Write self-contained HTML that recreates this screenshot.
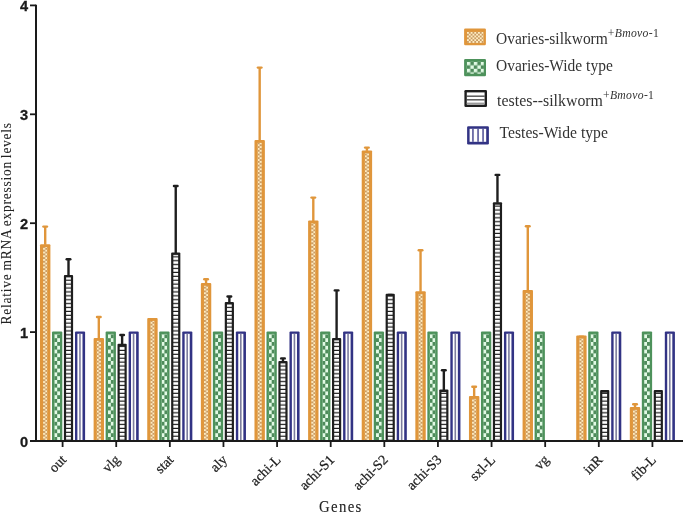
<!DOCTYPE html>
<html><head><meta charset="utf-8"><style>
html,body{margin:0;padding:0;background:#fff;width:685px;height:514px;overflow:hidden;}
svg{display:block;will-change:transform;}
</style></head><body>
<svg width="685" height="514" viewBox="0 0 685 514">

<defs>
<pattern id="pOr" patternUnits="userSpaceOnUse" width="3.66" height="3.66" x="0" y="0">
<rect width="3.66" height="3.66" fill="#C99A62"/>
<rect width="1.83" height="1.83" fill="#FFEDC2"/>
<rect x="1.83" y="1.83" width="1.83" height="1.83" fill="#FFEDC2"/>
</pattern>
<pattern id="pOrB" patternUnits="userSpaceOnUse" width="4.2" height="3.7" x="0" y="0">
<rect width="4.2" height="3.7" fill="#C99A62"/>
<rect width="2.1" height="1.85" fill="#FFEDC2"/>
<rect x="2.1" y="1.85" width="2.1" height="1.85" fill="#FFEDC2"/>
</pattern>
<pattern id="pGr" patternUnits="userSpaceOnUse" width="5.8" height="7.6" x="0" y="0">
<rect width="5.8" height="7.6" fill="#4E8B5B"/>
<rect width="2.9" height="3.8" fill="#E2FAE5"/>
<rect x="2.9" y="3.8" width="2.9" height="3.8" fill="#E2FAE5"/>
</pattern>
<pattern id="pGrL" patternUnits="userSpaceOnUse" width="7" height="7" x="0" y="0">
<rect width="7" height="7" fill="#4E8B5B"/>
<rect width="3.5" height="3.5" fill="#E2FAE5"/>
<rect x="3.5" y="3.5" width="3.5" height="3.5" fill="#E2FAE5"/>
</pattern>
<pattern id="pBk" patternUnits="userSpaceOnUse" width="10" height="3.9" x="0" y="0">
<rect width="10" height="3.9" fill="#ffffff"/>
<rect y="2.7" width="10" height="1.2" fill="#1E1E1E"/>
</pattern>
</defs>

<rect width="685" height="514" fill="#ffffff"/>
<rect x="40" y="244.3" width="10.4" height="196.7" fill="#E0963B" rx="1"/><g transform="translate(43.1,0)"><rect x="0" y="247.1" width="4.2" height="192.9" fill="url(#pOrB)"/></g>
<line x1="45.2" y1="244.8" x2="45.2" y2="226.6" stroke="#E0963B" stroke-width="2.4"/><line x1="43.4" y1="226.6" x2="47" y2="226.6" stroke="#E0963B" stroke-width="2.4" stroke-linecap="round"/>
<rect x="52" y="331.4" width="10.3" height="109.6" fill="#4D925B" rx="1"/><g transform="translate(54.3,0)"><rect x="0" y="333.9" width="5.7" height="106.1" fill="url(#pGr)"/></g>
<rect x="63.9" y="275" width="9.2" height="166" fill="#1E1E1E" rx="1"/><rect x="66.1" y="277.4" width="4.8" height="162.6" fill="url(#pBk)"/>
<line x1="68.5" y1="275.5" x2="68.5" y2="259.3" stroke="#1E1E1E" stroke-width="2.4"/><line x1="66.7" y1="259.3" x2="70.3" y2="259.3" stroke="#1E1E1E" stroke-width="2.4" stroke-linecap="round"/>
<rect x="75" y="331.4" width="10.1" height="109.6" fill="#323384" rx="1"/><rect x="77.4" y="333.8" width="5.1" height="106.2" fill="#ffffff"/><rect x="79.15" y="333.8" width="1.6" height="106.2" fill="#7C7D9E"/>
<rect x="93.62" y="338" width="10.4" height="103" fill="#E0963B" rx="1"/><g transform="translate(96.72,0)"><rect x="0" y="340.8" width="4.2" height="99.2" fill="url(#pOrB)"/></g>
<line x1="98.82" y1="338.5" x2="98.82" y2="317" stroke="#E0963B" stroke-width="2.4"/><line x1="97.02" y1="317" x2="100.62" y2="317" stroke="#E0963B" stroke-width="2.4" stroke-linecap="round"/>
<rect x="105.62" y="331.4" width="10.3" height="109.6" fill="#4D925B" rx="1"/><g transform="translate(107.92,0)"><rect x="0" y="333.9" width="5.7" height="106.1" fill="url(#pGr)"/></g>
<rect x="117.52" y="343.8" width="9.2" height="97.2" fill="#1E1E1E" rx="1"/><rect x="119.72" y="346.2" width="4.8" height="93.8" fill="url(#pBk)"/>
<line x1="122.12" y1="344.3" x2="122.12" y2="335" stroke="#1E1E1E" stroke-width="2.4"/><line x1="120.32" y1="335" x2="123.92" y2="335" stroke="#1E1E1E" stroke-width="2.4" stroke-linecap="round"/>
<rect x="128.62" y="331.4" width="10.1" height="109.6" fill="#323384" rx="1"/><rect x="131.02" y="333.8" width="5.1" height="106.2" fill="#ffffff"/><rect x="132.77" y="333.8" width="1.6" height="106.2" fill="#7C7D9E"/>
<rect x="147.24" y="318" width="10.4" height="123" fill="#E0963B" rx="1"/><g transform="translate(150.34,0)"><rect x="0" y="320.8" width="4.2" height="119.2" fill="url(#pOrB)"/></g>
<line x1="150.64" y1="319.2" x2="154.24" y2="319.2" stroke="#E0963B" stroke-width="2.4" stroke-linecap="round"/>
<rect x="159.24" y="331.4" width="10.3" height="109.6" fill="#4D925B" rx="1"/><g transform="translate(161.54,0)"><rect x="0" y="333.9" width="5.7" height="106.1" fill="url(#pGr)"/></g>
<rect x="171.14" y="252.5" width="9.2" height="188.5" fill="#1E1E1E" rx="1"/><rect x="173.34" y="254.9" width="4.8" height="185.1" fill="url(#pBk)"/>
<line x1="175.74" y1="253" x2="175.74" y2="186" stroke="#1E1E1E" stroke-width="2.4"/><line x1="173.94" y1="186" x2="177.54" y2="186" stroke="#1E1E1E" stroke-width="2.4" stroke-linecap="round"/>
<rect x="182.24" y="331.4" width="10.1" height="109.6" fill="#323384" rx="1"/><rect x="184.64" y="333.8" width="5.1" height="106.2" fill="#ffffff"/><rect x="186.39" y="333.8" width="1.6" height="106.2" fill="#7C7D9E"/>
<rect x="200.86" y="283" width="10.4" height="158" fill="#E0963B" rx="1"/><g transform="translate(203.96,0)"><rect x="0" y="285.8" width="4.2" height="154.2" fill="url(#pOrB)"/></g>
<line x1="206.06" y1="283.5" x2="206.06" y2="279.3" stroke="#E0963B" stroke-width="2.4"/><line x1="204.26" y1="279.3" x2="207.86" y2="279.3" stroke="#E0963B" stroke-width="2.4" stroke-linecap="round"/>
<rect x="212.86" y="331.4" width="10.3" height="109.6" fill="#4D925B" rx="1"/><g transform="translate(215.16,0)"><rect x="0" y="333.9" width="5.7" height="106.1" fill="url(#pGr)"/></g>
<rect x="224.76" y="302" width="9.2" height="139" fill="#1E1E1E" rx="1"/><rect x="226.96" y="304.4" width="4.8" height="135.6" fill="url(#pBk)"/>
<line x1="229.36" y1="302.5" x2="229.36" y2="296.5" stroke="#1E1E1E" stroke-width="2.4"/><line x1="227.56" y1="296.5" x2="231.16" y2="296.5" stroke="#1E1E1E" stroke-width="2.4" stroke-linecap="round"/>
<rect x="235.86" y="331.4" width="10.1" height="109.6" fill="#323384" rx="1"/><rect x="238.26" y="333.8" width="5.1" height="106.2" fill="#ffffff"/><rect x="240.01" y="333.8" width="1.6" height="106.2" fill="#7C7D9E"/>
<rect x="254.48" y="140" width="10.4" height="301" fill="#E0963B" rx="1"/><g transform="translate(257.58,0)"><rect x="0" y="142.8" width="4.2" height="297.2" fill="url(#pOrB)"/></g>
<line x1="259.68" y1="140.5" x2="259.68" y2="67.6" stroke="#E0963B" stroke-width="2.4"/><line x1="257.88" y1="67.6" x2="261.48" y2="67.6" stroke="#E0963B" stroke-width="2.4" stroke-linecap="round"/>
<rect x="266.48" y="331.4" width="10.3" height="109.6" fill="#4D925B" rx="1"/><g transform="translate(268.78,0)"><rect x="0" y="333.9" width="5.7" height="106.1" fill="url(#pGr)"/></g>
<rect x="278.38" y="361" width="9.2" height="80" fill="#1E1E1E" rx="1"/><rect x="280.58" y="363.4" width="4.8" height="76.6" fill="url(#pBk)"/>
<line x1="282.98" y1="361.5" x2="282.98" y2="358.4" stroke="#1E1E1E" stroke-width="2.4"/><line x1="281.18" y1="358.4" x2="284.78" y2="358.4" stroke="#1E1E1E" stroke-width="2.4" stroke-linecap="round"/>
<rect x="289.48" y="331.4" width="10.1" height="109.6" fill="#323384" rx="1"/><rect x="291.88" y="333.8" width="5.1" height="106.2" fill="#ffffff"/><rect x="293.63" y="333.8" width="1.6" height="106.2" fill="#7C7D9E"/>
<rect x="308.1" y="220.6" width="10.4" height="220.4" fill="#E0963B" rx="1"/><g transform="translate(311.2,0)"><rect x="0" y="223.4" width="4.2" height="216.6" fill="url(#pOrB)"/></g>
<line x1="313.3" y1="221.1" x2="313.3" y2="197.6" stroke="#E0963B" stroke-width="2.4"/><line x1="311.5" y1="197.6" x2="315.1" y2="197.6" stroke="#E0963B" stroke-width="2.4" stroke-linecap="round"/>
<rect x="320.1" y="331.4" width="10.3" height="109.6" fill="#4D925B" rx="1"/><g transform="translate(322.4,0)"><rect x="0" y="333.9" width="5.7" height="106.1" fill="url(#pGr)"/></g>
<rect x="332" y="338" width="9.2" height="103" fill="#1E1E1E" rx="1"/><rect x="334.2" y="340.4" width="4.8" height="99.6" fill="url(#pBk)"/>
<line x1="336.6" y1="338.5" x2="336.6" y2="290.4" stroke="#1E1E1E" stroke-width="2.4"/><line x1="334.8" y1="290.4" x2="338.4" y2="290.4" stroke="#1E1E1E" stroke-width="2.4" stroke-linecap="round"/>
<rect x="343.1" y="331.4" width="10.1" height="109.6" fill="#323384" rx="1"/><rect x="345.5" y="333.8" width="5.1" height="106.2" fill="#ffffff"/><rect x="347.25" y="333.8" width="1.6" height="106.2" fill="#7C7D9E"/>
<rect x="361.72" y="150.4" width="10.4" height="290.6" fill="#E0963B" rx="1"/><g transform="translate(364.82,0)"><rect x="0" y="153.2" width="4.2" height="286.8" fill="url(#pOrB)"/></g>
<line x1="366.92" y1="150.9" x2="366.92" y2="147.6" stroke="#E0963B" stroke-width="2.4"/><line x1="365.12" y1="147.6" x2="368.72" y2="147.6" stroke="#E0963B" stroke-width="2.4" stroke-linecap="round"/>
<rect x="373.72" y="331.4" width="10.3" height="109.6" fill="#4D925B" rx="1"/><g transform="translate(376.02,0)"><rect x="0" y="333.9" width="5.7" height="106.1" fill="url(#pGr)"/></g>
<rect x="385.62" y="293.8" width="9.2" height="147.2" fill="#1E1E1E" rx="1"/><rect x="387.82" y="296.2" width="4.8" height="143.8" fill="url(#pBk)"/>
<line x1="388.42" y1="295" x2="392.02" y2="295" stroke="#1E1E1E" stroke-width="2.4" stroke-linecap="round"/>
<rect x="396.72" y="331.4" width="10.1" height="109.6" fill="#323384" rx="1"/><rect x="399.12" y="333.8" width="5.1" height="106.2" fill="#ffffff"/><rect x="400.87" y="333.8" width="1.6" height="106.2" fill="#7C7D9E"/>
<rect x="415.34" y="291.3" width="10.4" height="149.7" fill="#E0963B" rx="1"/><g transform="translate(418.44,0)"><rect x="0" y="294.1" width="4.2" height="145.9" fill="url(#pOrB)"/></g>
<line x1="420.54" y1="291.8" x2="420.54" y2="250.3" stroke="#E0963B" stroke-width="2.4"/><line x1="418.74" y1="250.3" x2="422.34" y2="250.3" stroke="#E0963B" stroke-width="2.4" stroke-linecap="round"/>
<rect x="427.34" y="331.4" width="10.3" height="109.6" fill="#4D925B" rx="1"/><g transform="translate(429.64,0)"><rect x="0" y="333.9" width="5.7" height="106.1" fill="url(#pGr)"/></g>
<rect x="439.24" y="389.6" width="9.2" height="51.4" fill="#1E1E1E" rx="1"/><rect x="441.44" y="392" width="4.8" height="48" fill="url(#pBk)"/>
<line x1="443.84" y1="390.1" x2="443.84" y2="370.2" stroke="#1E1E1E" stroke-width="2.4"/><line x1="442.04" y1="370.2" x2="445.64" y2="370.2" stroke="#1E1E1E" stroke-width="2.4" stroke-linecap="round"/>
<rect x="450.34" y="331.4" width="10.1" height="109.6" fill="#323384" rx="1"/><rect x="452.74" y="333.8" width="5.1" height="106.2" fill="#ffffff"/><rect x="454.49" y="333.8" width="1.6" height="106.2" fill="#7C7D9E"/>
<rect x="468.96" y="396.1" width="10.4" height="44.9" fill="#E0963B" rx="1"/><g transform="translate(472.06,0)"><rect x="0" y="398.9" width="4.2" height="41.1" fill="url(#pOrB)"/></g>
<line x1="474.16" y1="396.6" x2="474.16" y2="386.7" stroke="#E0963B" stroke-width="2.4"/><line x1="472.36" y1="386.7" x2="475.96" y2="386.7" stroke="#E0963B" stroke-width="2.4" stroke-linecap="round"/>
<rect x="480.96" y="331.4" width="10.3" height="109.6" fill="#4D925B" rx="1"/><g transform="translate(483.26,0)"><rect x="0" y="333.9" width="5.7" height="106.1" fill="url(#pGr)"/></g>
<rect x="492.86" y="202.3" width="9.2" height="238.7" fill="#1E1E1E" rx="1"/><rect x="495.06" y="204.7" width="4.8" height="235.3" fill="url(#pBk)"/>
<line x1="497.46" y1="202.8" x2="497.46" y2="174.9" stroke="#1E1E1E" stroke-width="2.4"/><line x1="495.66" y1="174.9" x2="499.26" y2="174.9" stroke="#1E1E1E" stroke-width="2.4" stroke-linecap="round"/>
<rect x="503.96" y="331.4" width="10.1" height="109.6" fill="#323384" rx="1"/><rect x="506.36" y="333.8" width="5.1" height="106.2" fill="#ffffff"/><rect x="508.11" y="333.8" width="1.6" height="106.2" fill="#7C7D9E"/>
<rect x="522.58" y="290.1" width="10.4" height="150.9" fill="#E0963B" rx="1"/><g transform="translate(525.68,0)"><rect x="0" y="292.9" width="4.2" height="147.1" fill="url(#pOrB)"/></g>
<line x1="527.78" y1="290.6" x2="527.78" y2="226.2" stroke="#E0963B" stroke-width="2.4"/><line x1="525.98" y1="226.2" x2="529.58" y2="226.2" stroke="#E0963B" stroke-width="2.4" stroke-linecap="round"/>
<rect x="534.58" y="331.4" width="10.3" height="109.6" fill="#4D925B" rx="1"/><g transform="translate(536.88,0)"><rect x="0" y="333.9" width="5.7" height="106.1" fill="url(#pGr)"/></g>
<rect x="576.2" y="335.6" width="10.4" height="105.4" fill="#E0963B" rx="1"/><g transform="translate(579.3,0)"><rect x="0" y="338.4" width="4.2" height="101.6" fill="url(#pOrB)"/></g>
<line x1="579.6" y1="336.8" x2="583.2" y2="336.8" stroke="#E0963B" stroke-width="2.4" stroke-linecap="round"/>
<rect x="588.2" y="331.4" width="10.3" height="109.6" fill="#4D925B" rx="1"/><g transform="translate(590.5,0)"><rect x="0" y="333.9" width="5.7" height="106.1" fill="url(#pGr)"/></g>
<rect x="600.1" y="390" width="9.2" height="51" fill="#1E1E1E" rx="1"/><rect x="602.3" y="392.4" width="4.8" height="47.6" fill="url(#pBk)"/>
<line x1="602.9" y1="391.2" x2="606.5" y2="391.2" stroke="#1E1E1E" stroke-width="2.4" stroke-linecap="round"/>
<rect x="611.2" y="331.4" width="10.1" height="109.6" fill="#323384" rx="1"/><rect x="613.6" y="333.8" width="5.1" height="106.2" fill="#ffffff"/><rect x="615.35" y="333.8" width="1.6" height="106.2" fill="#7C7D9E"/>
<rect x="629.82" y="407.1" width="10.4" height="33.9" fill="#E0963B" rx="1"/><g transform="translate(632.92,0)"><rect x="0" y="409.9" width="4.2" height="30.1" fill="url(#pOrB)"/></g>
<line x1="635.02" y1="407.6" x2="635.02" y2="404.2" stroke="#E0963B" stroke-width="2.4"/><line x1="633.22" y1="404.2" x2="636.82" y2="404.2" stroke="#E0963B" stroke-width="2.4" stroke-linecap="round"/>
<rect x="641.82" y="331.4" width="10.3" height="109.6" fill="#4D925B" rx="1"/><g transform="translate(644.12,0)"><rect x="0" y="333.9" width="5.7" height="106.1" fill="url(#pGr)"/></g>
<rect x="653.72" y="389.9" width="9.2" height="51.1" fill="#1E1E1E" rx="1"/><rect x="655.92" y="392.3" width="4.8" height="47.7" fill="url(#pBk)"/>
<line x1="656.52" y1="391.1" x2="660.12" y2="391.1" stroke="#1E1E1E" stroke-width="2.4" stroke-linecap="round"/>
<rect x="664.82" y="331.4" width="10.1" height="109.6" fill="#323384" rx="1"/><rect x="667.22" y="333.8" width="5.1" height="106.2" fill="#ffffff"/><rect x="668.97" y="333.8" width="1.6" height="106.2" fill="#7C7D9E"/>
<line x1="36" y1="4.8" x2="36" y2="442" stroke="#1a1a1a" stroke-width="2"/>
<line x1="30" y1="441" x2="683" y2="441" stroke="#1a1a1a" stroke-width="2"/>
<line x1="30" y1="441" x2="36" y2="441" stroke="#1a1a1a" stroke-width="1.8"/>
<text x="28.2" y="446.85" font-family="Liberation Sans" font-weight="bold" font-size="14.6" text-anchor="end" fill="#1a1a1a" stroke="#1a1a1a" stroke-width="0.3">0</text>
<line x1="30" y1="332.1" x2="36" y2="332.1" stroke="#1a1a1a" stroke-width="1.8"/>
<text x="28.2" y="337.95" font-family="Liberation Sans" font-weight="bold" font-size="14.6" text-anchor="end" fill="#1a1a1a" stroke="#1a1a1a" stroke-width="0.3">1</text>
<line x1="30" y1="223.2" x2="36" y2="223.2" stroke="#1a1a1a" stroke-width="1.8"/>
<text x="28.2" y="229.05" font-family="Liberation Sans" font-weight="bold" font-size="14.6" text-anchor="end" fill="#1a1a1a" stroke="#1a1a1a" stroke-width="0.3">2</text>
<line x1="30" y1="114.3" x2="36" y2="114.3" stroke="#1a1a1a" stroke-width="1.8"/>
<text x="28.2" y="120.15" font-family="Liberation Sans" font-weight="bold" font-size="14.6" text-anchor="end" fill="#1a1a1a" stroke="#1a1a1a" stroke-width="0.3">3</text>
<line x1="30" y1="5.4" x2="36" y2="5.4" stroke="#1a1a1a" stroke-width="1.8"/>
<text x="28.2" y="11.25" font-family="Liberation Sans" font-weight="bold" font-size="14.6" text-anchor="end" fill="#1a1a1a" stroke="#1a1a1a" stroke-width="0.3">4</text>
<line x1="62.6" y1="441" x2="62.6" y2="447" stroke="#1a1a1a" stroke-width="1.8"/>
<text transform="translate(67.1,460.6) rotate(-45)" font-family="Liberation Serif" font-size="14" text-anchor="end" fill="#1e1e1e" stroke="#1e1e1e" stroke-width="0.25">out</text>
<line x1="116.22" y1="441" x2="116.22" y2="447" stroke="#1a1a1a" stroke-width="1.8"/>
<text transform="translate(120.72,460.6) rotate(-45)" font-family="Liberation Serif" font-size="14" text-anchor="end" fill="#1e1e1e" stroke="#1e1e1e" stroke-width="0.25">vlg</text>
<line x1="169.84" y1="441" x2="169.84" y2="447" stroke="#1a1a1a" stroke-width="1.8"/>
<text transform="translate(174.34,460.6) rotate(-45)" font-family="Liberation Serif" font-size="14" text-anchor="end" fill="#1e1e1e" stroke="#1e1e1e" stroke-width="0.25">stat</text>
<line x1="223.46" y1="441" x2="223.46" y2="447" stroke="#1a1a1a" stroke-width="1.8"/>
<text transform="translate(227.96,460.6) rotate(-45)" font-family="Liberation Serif" font-size="14" text-anchor="end" fill="#1e1e1e" stroke="#1e1e1e" stroke-width="0.25">aly</text>
<line x1="277.08" y1="441" x2="277.08" y2="447" stroke="#1a1a1a" stroke-width="1.8"/>
<text transform="translate(281.58,460.6) rotate(-45)" font-family="Liberation Serif" font-size="14" text-anchor="end" fill="#1e1e1e" stroke="#1e1e1e" stroke-width="0.25">achi-L</text>
<line x1="330.7" y1="441" x2="330.7" y2="447" stroke="#1a1a1a" stroke-width="1.8"/>
<text transform="translate(335.2,460.6) rotate(-45)" font-family="Liberation Serif" font-size="14" text-anchor="end" fill="#1e1e1e" stroke="#1e1e1e" stroke-width="0.25">achi-S1</text>
<line x1="384.32" y1="441" x2="384.32" y2="447" stroke="#1a1a1a" stroke-width="1.8"/>
<text transform="translate(388.82,460.6) rotate(-45)" font-family="Liberation Serif" font-size="14" text-anchor="end" fill="#1e1e1e" stroke="#1e1e1e" stroke-width="0.25">achi-S2</text>
<line x1="437.94" y1="441" x2="437.94" y2="447" stroke="#1a1a1a" stroke-width="1.8"/>
<text transform="translate(442.44,460.6) rotate(-45)" font-family="Liberation Serif" font-size="14" text-anchor="end" fill="#1e1e1e" stroke="#1e1e1e" stroke-width="0.25">achi-S3</text>
<line x1="491.56" y1="441" x2="491.56" y2="447" stroke="#1a1a1a" stroke-width="1.8"/>
<text transform="translate(496.06,460.6) rotate(-45)" font-family="Liberation Serif" font-size="14" text-anchor="end" fill="#1e1e1e" stroke="#1e1e1e" stroke-width="0.25">sxl-L</text>
<line x1="545.18" y1="441" x2="545.18" y2="447" stroke="#1a1a1a" stroke-width="1.8"/>
<text transform="translate(549.68,460.6) rotate(-45)" font-family="Liberation Serif" font-size="14" text-anchor="end" fill="#1e1e1e" stroke="#1e1e1e" stroke-width="0.25">vg</text>
<line x1="598.8" y1="441" x2="598.8" y2="447" stroke="#1a1a1a" stroke-width="1.8"/>
<text transform="translate(603.3,460.6) rotate(-45)" font-family="Liberation Serif" font-size="14" text-anchor="end" fill="#1e1e1e" stroke="#1e1e1e" stroke-width="0.25">inR</text>
<line x1="652.42" y1="441" x2="652.42" y2="447" stroke="#1a1a1a" stroke-width="1.8"/>
<text transform="translate(656.92,460.6) rotate(-45)" font-family="Liberation Serif" font-size="14" text-anchor="end" fill="#1e1e1e" stroke="#1e1e1e" stroke-width="0.25">fib-L</text>
<text transform="translate(11,223.3) rotate(-90) scale(0.912,1)" font-family="Liberation Serif" font-size="14.8" text-anchor="middle" letter-spacing="0.83" word-spacing="-1.3" fill="#222" stroke="#222" stroke-width="0.05">Relative mRNA expression levels</text>
<text transform="translate(340.8,512.2) scale(0.91,1)" font-family="Liberation Serif" font-size="16.3" text-anchor="middle" letter-spacing="1.45" fill="#222" stroke="#222" stroke-width="0.1">Genes</text>
<rect x="464.1" y="28.6" width="21.8" height="16.7" fill="#E0963B" rx="1.2"/>
<g transform="translate(467,31.9)"><rect x="0" y="0" width="16.6" height="11.1" fill="url(#pOr)"/></g>
<rect x="464.1" y="59.1" width="21.9" height="17.1" fill="#4D925B" rx="1.2"/>
<g transform="translate(466.8,61.8)"><rect x="0" y="0" width="17" height="11.9" fill="url(#pGrL)"/></g>
<rect x="464.4" y="90" width="22.6" height="17" fill="#1E1E1E" rx="1.2"/>
<rect x="466.8" y="92.4" width="17.8" height="12.2" fill="#fff"/>
<rect x="466.8" y="95.6" width="17.8" height="1.1" fill="#1E1E1E"/><rect x="466.8" y="99.3" width="17.8" height="1.1" fill="#1E1E1E"/><rect x="466.8" y="102.6" width="17.8" height="1.4" fill="#9a9a9a"/>
<rect x="467.1" y="126.3" width="21.8" height="18.2" fill="#323384" rx="1.2"/>
<rect x="469.6" y="128.8" width="16.6" height="13" fill="#fff"/>
<rect x="472.3" y="128.8" width="1.3" height="13" fill="#323384"/><rect x="477.4" y="128.8" width="1.3" height="13" fill="#323384"/><rect x="482.4" y="128.8" width="1.3" height="13" fill="#323384"/>
<text transform="translate(496,44.2) scale(0.951,1)" font-family="Liberation Serif" font-size="16.3" fill="#333">Ovaries-silkworm<tspan dy="-7.2" font-family="Liberation Serif" font-size="12.3" letter-spacing="0.32">+<tspan font-style="italic">Bmovo</tspan>-1</tspan></text>
<text transform="translate(496,70.5) scale(0.951,1)" font-family="Liberation Serif" font-size="16.3" fill="#333">Ovaries-Wide type</text>
<text transform="translate(497.1,105.9) scale(0.951,1)" font-family="Liberation Serif" font-size="16.72" fill="#333">testes--silkworm<tspan dy="-7.0" font-family="Liberation Serif" font-size="12.3" letter-spacing="0.32">+<tspan font-style="italic">Bmovo</tspan>-1</tspan></text>
<text transform="translate(499.5,138.1) scale(0.962,1)" font-family="Liberation Serif" font-size="16.3" fill="#333">Testes-Wide type</text>
</svg>
</body></html>
